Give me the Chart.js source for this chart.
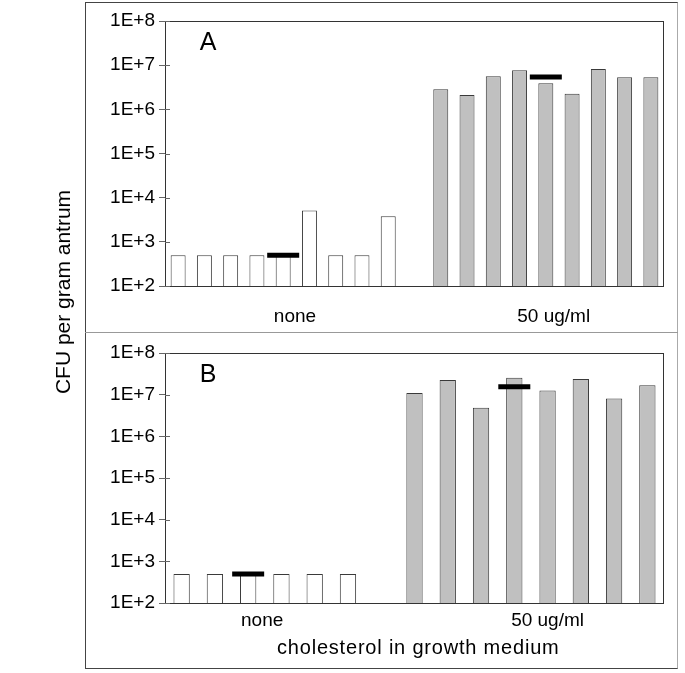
<!DOCTYPE html>
<html>
<head>
<meta charset="utf-8">
<script src="https://cdn.jsdelivr.net/npm/chart.js@4/dist/chart.umd.min.js"></script>
<style>
  html, body { margin: 0; padding: 0; background: #fff; }
  body { width: 685px; height: 673px; position: relative; overflow: hidden;
         font-family: "Liberation Sans", Arial, sans-serif; color: #000; }
  #frame { position: absolute; left: 85px; top: 2px; width: 593px; height: 667px;
           border: 1px solid #444; border-right-color: #aaa; box-sizing: border-box; }
  #divider { position: absolute; left: 85px; top: 332px; width: 593px; height: 1px; background: #999; }
  canvas { position: absolute; left: 0; }
  #chartA { top: 0; }
  #chartB { top: 332px; }
  #ytitle { position: absolute; left: -87px; top: 280px; width: 300px; height: 24px; line-height: 24px;
            text-align: center; font-size: 21px; white-space: nowrap; transform: rotate(-90deg); }
  #xtitle { position: absolute; left: 277px; top: 636px; font-size: 20px; line-height: 23px;
            letter-spacing: 0.8px; white-space: nowrap; }
</style>
</head>
<body>
<div id="frame"></div>
<div id="divider"></div>
<canvas id="chartA" width="685" height="332"></canvas>
<canvas id="chartB" width="685" height="341"></canvas>
<div id="ytitle">CFU per gram antrum</div>
<div id="xtitle">cholesterol in growth medium</div>
<script>
const groupLabels = ['none', '50 ug/ml'];
const yTickValues = [1e2, 1e3, 1e4, 1e5, 1e6, 1e7, 1e8];
const yTickLabels = ['1E+2', '1E+3', '1E+4', '1E+5', '1E+6', '1E+7', '1E+8'];

// panel A, one bar per animal
const noneA = [500, 500, 500, 500, 500, 5150, 500, 500, 3800];
const cholA = [2.84e6, 2.11e6, 5.58e6, 7.64e6, 3.88e6, 2.26e6, 8.19e6, 5.3e6, 5.3e6];
const noneMeanA = [null, null, null, null, 500, null, null, null, null];
const cholMeanA = [null, null, null, null, 5.4e6, null, null, null, null];

// panel B
const noneB = [500, 500, 500, 500, 500, 500];
const cholB = [1.09e7, 2.25e7, 4.87e6, 2.55e7, 1.26e7, 2.37e7, 8.06e6, 1.69e7];
const noneMeanB = [null, null, 500, null, null, null];
const cholMeanB = [null, null, null, 1.54e7, null, null, null, null];

const FONT = '"Liberation Sans", Arial, sans-serif';

// box round the plot, inner tick marks, panel letter and group labels
const panelDecor = {
    id: 'panelDecor',
    afterDatasetsDraw(chart, args, opts) {
        const { ctx, chartArea: a } = chart;
        const x = chart.scales.x, y = chart.scales.y;
        ctx.save();
        ctx.strokeStyle = '#333';
        ctx.lineWidth = 1;
        ctx.strokeRect(Math.round(a.left) + 0.5, Math.round(a.top) + 0.5,
                       Math.round(a.right - a.left) - 1, Math.round(a.bottom - a.top));
        ctx.strokeStyle = '#666';
        ctx.beginPath();
        y.ticks.forEach(t => {
            const py = Math.round(y.getPixelForValue(t.value)) + 0.5;
            ctx.moveTo(a.left, py);
            ctx.lineTo(a.left + 5, py);
        });
        ctx.stroke();

        ctx.fillStyle = '#000';
        ctx.font = '25px ' + FONT;
        ctx.textAlign = 'center';
        ctx.textBaseline = 'middle';
        ctx.fillText(opts.letter, a.left + 43, a.top + 22);

        ctx.font = '19px ' + FONT;
        ctx.textBaseline = 'alphabetic';
        groupLabels.forEach((g, i) => {
            ctx.fillText(g, x.getPixelForValue(opts.labelAt[i]), a.bottom + opts.labelDrop);
        });
        ctx.restore();
    }
};

function makePanel(canvasId, none, chol, noneMean, cholMean, opts) {
    const values = [...none, null, ...chol];
    const means = [...noneMean, null, ...cholMean];
    const colors = values.map((v, i) => i < none.length ? '#ffffff' : '#c0c0c0');
    const labels = values.map((v, i) => i < none.length ? groupLabels[0] : (i > none.length ? groupLabels[1] : ''));

    const ctx = document.getElementById(canvasId).getContext('2d');
    return new Chart(ctx, {
        type: 'bar',
        data: {
            labels: labels,
            datasets: [
                {
                    type: 'line',
                    data: means,
                    showLine: false,
                    pointStyle: 'line',
                    pointRadius: 16,
                    pointHoverRadius: 16,
                    pointBorderWidth: 5,
                    pointBorderColor: '#000',
                    pointBackgroundColor: '#000',
                    order: 0
                },
                {
                    data: values,
                    backgroundColor: colors,
                    borderColor: '#3a3a3a',
                    borderWidth: 1,
                    barPercentage: opts.barPct,
                    categoryPercentage: 1,
                    order: 1
                }
            ]
        },
        options: {
            responsive: false,
            animation: false,
            events: [],
            layout: { padding: opts.padding },
            plugins: {
                legend: { display: false },
                tooltip: { enabled: false },
                panelDecor: { letter: opts.letter, labelAt: opts.labelAt, labelDrop: opts.labelDrop }
            },
            scales: {
                x: { type: 'category', display: false, offset: true },
                y: {
                    type: 'logarithmic',
                    min: 1e2,
                    max: 1e8,
                    afterFit: s => { s.width = 80; },
                    afterBuildTicks: s => { s.ticks = yTickValues.map(v => ({ value: v })); },
                    ticks: {
                        padding: 4,
                        color: '#000',
                        font: { family: FONT, size: 19 },
                        callback: v => yTickLabels[yTickValues.indexOf(v)]
                    },
                    grid: { drawOnChartArea: false, drawTicks: true, tickLength: 6, color: '#666' },
                    border: { display: true, color: '#333' }
                }
            }
        },
        plugins: [panelDecor]
    });
}

makePanel('chartA', noneA, cholA, noneMeanA, cholMeanA, {
    letter: 'A', barPct: 0.57, labelAt: [4.45, 14.3], labelDrop: 36,
    padding: { left: 85, top: 21, right: 18, bottom: 46 }
});
makePanel('chartB', noneB, cholB, noneMeanB, cholMeanB, {
    letter: 'B', barPct: 0.49, labelAt: [2.42, 11], labelDrop: 23,
    padding: { left: 85, top: 15, right: 19, bottom: 70 }
});
</script>
</body>
</html>
